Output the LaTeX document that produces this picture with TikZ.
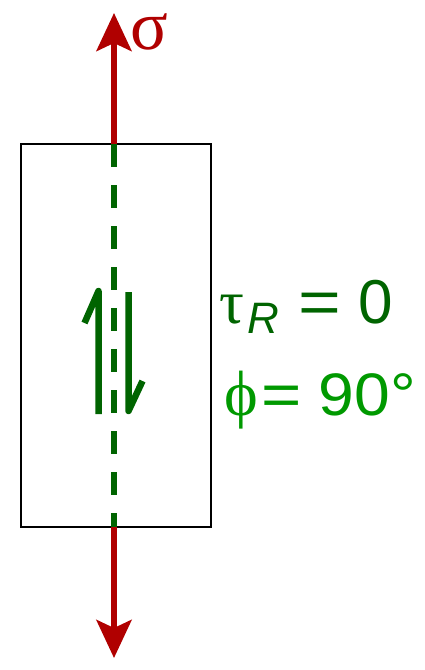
\documentclass[tikz,border=0pt]{standalone}
\usepackage{fontspec}
\setmainfont{Liberation Sans}
\newfontfamily\greekfont{Liberation Serif}
\usetikzlibrary{arrows.meta}
\definecolor{sRed}{HTML}{B00000}
\definecolor{sDark}{HTML}{006400}
\definecolor{sGreen}{HTML}{009900}

\begin{document}
\begin{tikzpicture}[x=1pt, y=-1pt,
    stress/.style={sRed, line width=6pt, -{Stealth[length=38pt, width=35pt, inset=8pt]}},
    shear/.style={sDark, line width=6.5pt, line join=round},
    lbl/.style={anchor=base west, inner sep=0pt}]
  \useasboundingbox (0,0) rectangle (424,670);
  \node[draw, line width=2pt, minimum width=190pt, minimum height=383pt, inner sep=0pt] (block) at (116,335.5) {};
  \coordinate (top) at (114,144);
  \coordinate (bot) at (114,527);
  \coordinate (toptip) at (114,13);
  \coordinate (bottip) at (114,658);
  \draw[stress] (top) -- (toptip);
  \draw[stress] (bot) -- (bottip);
  \draw[sDark, line width=6pt, dash pattern=on 23pt off 18pt] (top) -- (bot);
  \draw[shear] (84.5,323) -- (98.5,291) -- (98.5,414);
  \draw[shear] (128.5,292) -- (128.5,411) -- (142.5,381);
  \node[lbl, text=sRed, font=\fontsize{70}{70}\greekfont] (sigma) at (130,49) {σ};
  \node[lbl, text=sDark, font=\fontsize{62}{62}\selectfont] (tau) at (219,323)
    {{\greekfont τ}\hspace{3pt}\raisebox{-10pt}{\fontsize{44}{44}\selectfont\itshape R}\hspace{2pt} \scalebox{1.18}[1]{=} 0};
  \node[lbl, text=sGreen, font=\fontsize{60}{60}\selectfont] (phi) at (224,415)
    {{\fontsize{64}{64}\greekfont ϕ}\hspace{4pt}\scalebox{1.15}[1]{=} \scalebox{1.07}[1]{90°}};
\end{tikzpicture}
\end{document}
